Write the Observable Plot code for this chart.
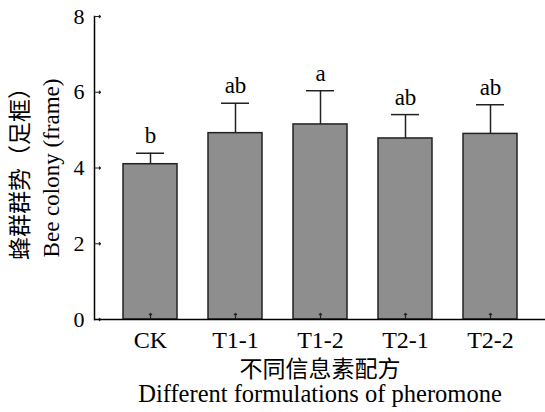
<!DOCTYPE html>
<html>
<head>
<meta charset="utf-8">
<script src="https://cdn.jsdelivr.net/npm/d3@7"></script>
<script src="https://cdn.jsdelivr.net/npm/@observablehq/plot@0.6"></script>
<style>
  html, body { margin: 0; padding: 0; background: #fff; }
  #chart svg { display: block; }
</style>
</head>
<body>
<div id="chart"></div>
<script>
const categories = ["CK", "T1-1", "T1-2", "T2-1", "T2-2"];
const means = [4.10, 4.92, 5.15, 4.78, 4.90];
const errors = [0.29, 0.79, 0.89, 0.63, 0.77];
const letters = ["b", "ab", "a", "ab", "ab"];
const yTicks = [0, 2, 4, 6, 8];
const yLabelZh = "蜂群群势（足框）";
const yLabelEn = "Bee colony (frame)";
const xLabelZh = "不同信息素配方";
const xLabelEn = "Different formulations of pheromone";

const data = categories.map((c, i) => ({
  cat: c, mean: means[i], upper: means[i] + errors[i], letter: letters[i]
}));

const font = "'Liberation Serif', 'Times New Roman', 'Noto Sans CJK SC', serif";

const chart = Plot.plot({
  width: 545,
  height: 412,
  marginLeft: 94,
  marginRight: 0,
  marginTop: 16,
  marginBottom: 93,
  style: {fontFamily: font, fontSize: "22px", color: "#000", background: "#fff"},
  x: {domain: categories, paddingInner: 0.365, paddingOuter: 0.335, label: null},
  y: {domain: [0, 8], label: null},
  marks: [
    Plot.ruleX(data, {x: "cat", y1: "mean", y2: "upper", stroke: "#222", strokeWidth: 1.5}),
    Plot.tickY(data, {x: "cat", y: "upper", inset: 13, stroke: "#222", strokeWidth: 1.5}),
    Plot.barY(data, {x: "cat", y: "mean", fill: "#8e8e8e", stroke: "#222", strokeWidth: 1.5}),
    Plot.axisX({tickSize: 0, tickPadding: 11, fontSize: 24, label: null, fill: "#000"}),
    Plot.axisY(yTicks, {tickSize: 0, tickPadding: 10, fontSize: 22, label: null, fill: "#000"}),
    Plot.frame({anchor: "left", stroke: "#000", strokeWidth: 1.5}),
    Plot.vector(categories, {x: d => d, frameAnchor: "bottom", length: 6, rotate: 0, anchor: "start", stroke: "#222", strokeWidth: 1.2}),
    Plot.vector(yTicks, {y: d => d, frameAnchor: "left", length: 6, rotate: 90, anchor: "start", stroke: "#222", strokeWidth: 1.2}),
    Plot.ruleY([0], {stroke: "#000", strokeWidth: 1.5}),
    Plot.text(data, {x: "cat", y: "upper", text: "letter", lineAnchor: "bottom", dy: -10, fontSize: 23, fill: "#000"}),
    Plot.text([xLabelZh], {frameAnchor: "bottom", textAnchor: "middle", dy: 57, lineAnchor: "bottom", fontSize: 23, fill: "#000"}),
    Plot.text([xLabelEn], {frameAnchor: "bottom", textAnchor: "middle", dy: 82, lineAnchor: "bottom", fontSize: 24.5, fill: "#000"}),
    Plot.text([yLabelZh], {frameAnchor: "left", textAnchor: "middle", dx: -74, rotate: -90, lineAnchor: "middle", fontSize: 23, fill: "#000"}),
    Plot.text([yLabelEn], {frameAnchor: "left", textAnchor: "middle", dx: -43, rotate: -90, lineAnchor: "middle", fontSize: 23, fill: "#000"})
  ]
});
document.getElementById("chart").appendChild(chart);
</script>
</body>
</html>
